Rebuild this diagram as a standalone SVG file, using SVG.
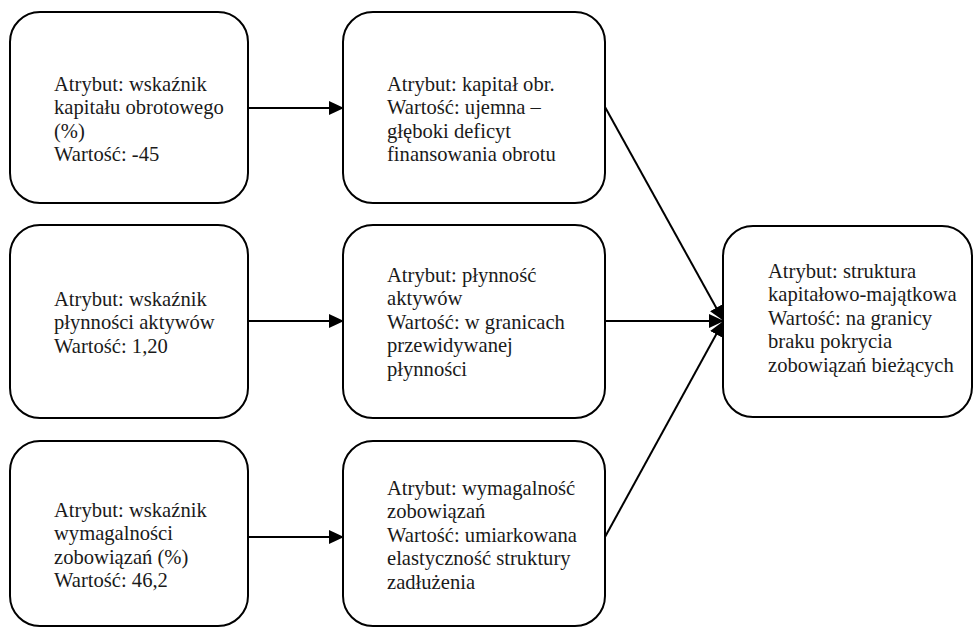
<svg xmlns="http://www.w3.org/2000/svg" width="975" height="628" viewBox="0 0 975 628">
<style>
.box{fill:#fff;stroke:#000;stroke-width:2}
.t{font-family:'Liberation Serif','Times New Roman',serif;font-size:20.6px;fill:#1a1a1a}
.c{stroke:#000;stroke-width:2;fill:none;marker-end:url(#ah)}
</style>
<defs>
<marker id="ah" markerUnits="userSpaceOnUse" markerWidth="15" markerHeight="14" refX="14" refY="7" orient="auto">
<path d="M0,0 L15,7 L0,14 Z" fill="#000"/>
</marker>
</defs>
<rect width="975" height="628" fill="#fff"/>
<g id="connectors">
<line class="c" x1="248" y1="108" x2="343" y2="108"/>
<line class="c" x1="248" y1="321" x2="343" y2="321"/>
<line class="c" x1="248" y1="537" x2="343" y2="537"/>
<line class="c" x1="605" y1="107" x2="723" y2="320"/>
<line class="c" x1="605" y1="321" x2="723" y2="321"/>
<line class="c" x1="605" y1="537" x2="723" y2="322"/>
</g>
<g id="n1">
<rect class="box" x="10" y="12" width="238" height="191" rx="30"/>
<text class="t" x="54" y="91"><tspan x="54">Atrybut: wskaźnik</tspan><tspan x="54" dy="23.4">kapitału obrotowego</tspan><tspan x="54" dy="23.4">(%)</tspan><tspan x="54" dy="23.4">Wartość: -45</tspan></text>
</g>
<g id="n2">
<rect class="box" x="343" y="12" width="262" height="191" rx="30"/>
<text class="t" x="387" y="91"><tspan x="387">Atrybut: kapitał obr.</tspan><tspan x="387" dy="23.4">Wartość: ujemna –</tspan><tspan x="387" dy="23.4">głęboki deficyt</tspan><tspan x="387" dy="23.4">finansowania obrotu</tspan></text>
</g>
<g id="n3">
<rect class="box" x="10" y="225" width="238" height="193" rx="30"/>
<text class="t" x="54" y="306"><tspan x="54">Atrybut: wskaźnik</tspan><tspan x="54" dy="23.4">płynności aktywów</tspan><tspan x="54" dy="23.4">Wartość: 1,20</tspan></text>
</g>
<g id="n4">
<rect class="box" x="343" y="225" width="262" height="193" rx="30"/>
<text class="t" x="387" y="282"><tspan x="387">Atrybut: płynność</tspan><tspan x="387" dy="23.4">aktywów</tspan><tspan x="387" dy="23.4">Wartość: w granicach</tspan><tspan x="387" dy="23.4">przewidywanej</tspan><tspan x="387" dy="23.4">płynności</tspan></text>
</g>
<g id="n5">
<rect class="box" x="10" y="441" width="238" height="185" rx="30"/>
<text class="t" x="54" y="517"><tspan x="54">Atrybut: wskaźnik</tspan><tspan x="54" dy="23.4">wymagalności</tspan><tspan x="54" dy="23.4">zobowiązań (%)</tspan><tspan x="54" dy="23.4">Wartość: 46,2</tspan></text>
</g>
<g id="n6">
<rect class="box" x="343" y="441" width="262" height="185" rx="30"/>
<text class="t" x="387" y="495"><tspan x="387">Atrybut: wymagalność</tspan><tspan x="387" dy="23.4">zobowiązań</tspan><tspan x="387" dy="23.4">Wartość: umiarkowana</tspan><tspan x="387" dy="23.4">elastyczność struktury</tspan><tspan x="387" dy="23.4">zadłużenia</tspan></text>
</g>
<g id="n7">
<rect class="box" x="723" y="226" width="249" height="191" rx="30"/>
<text class="t" x="768" y="278"><tspan x="768">Atrybut: struktura</tspan><tspan x="768" dy="23.4">kapitałowo-majątkowa</tspan><tspan x="768" dy="23.4">Wartość: na granicy</tspan><tspan x="768" dy="23.4">braku pokrycia</tspan><tspan x="768" dy="23.4">zobowiązań bieżących</tspan></text>
</g>
</svg>
